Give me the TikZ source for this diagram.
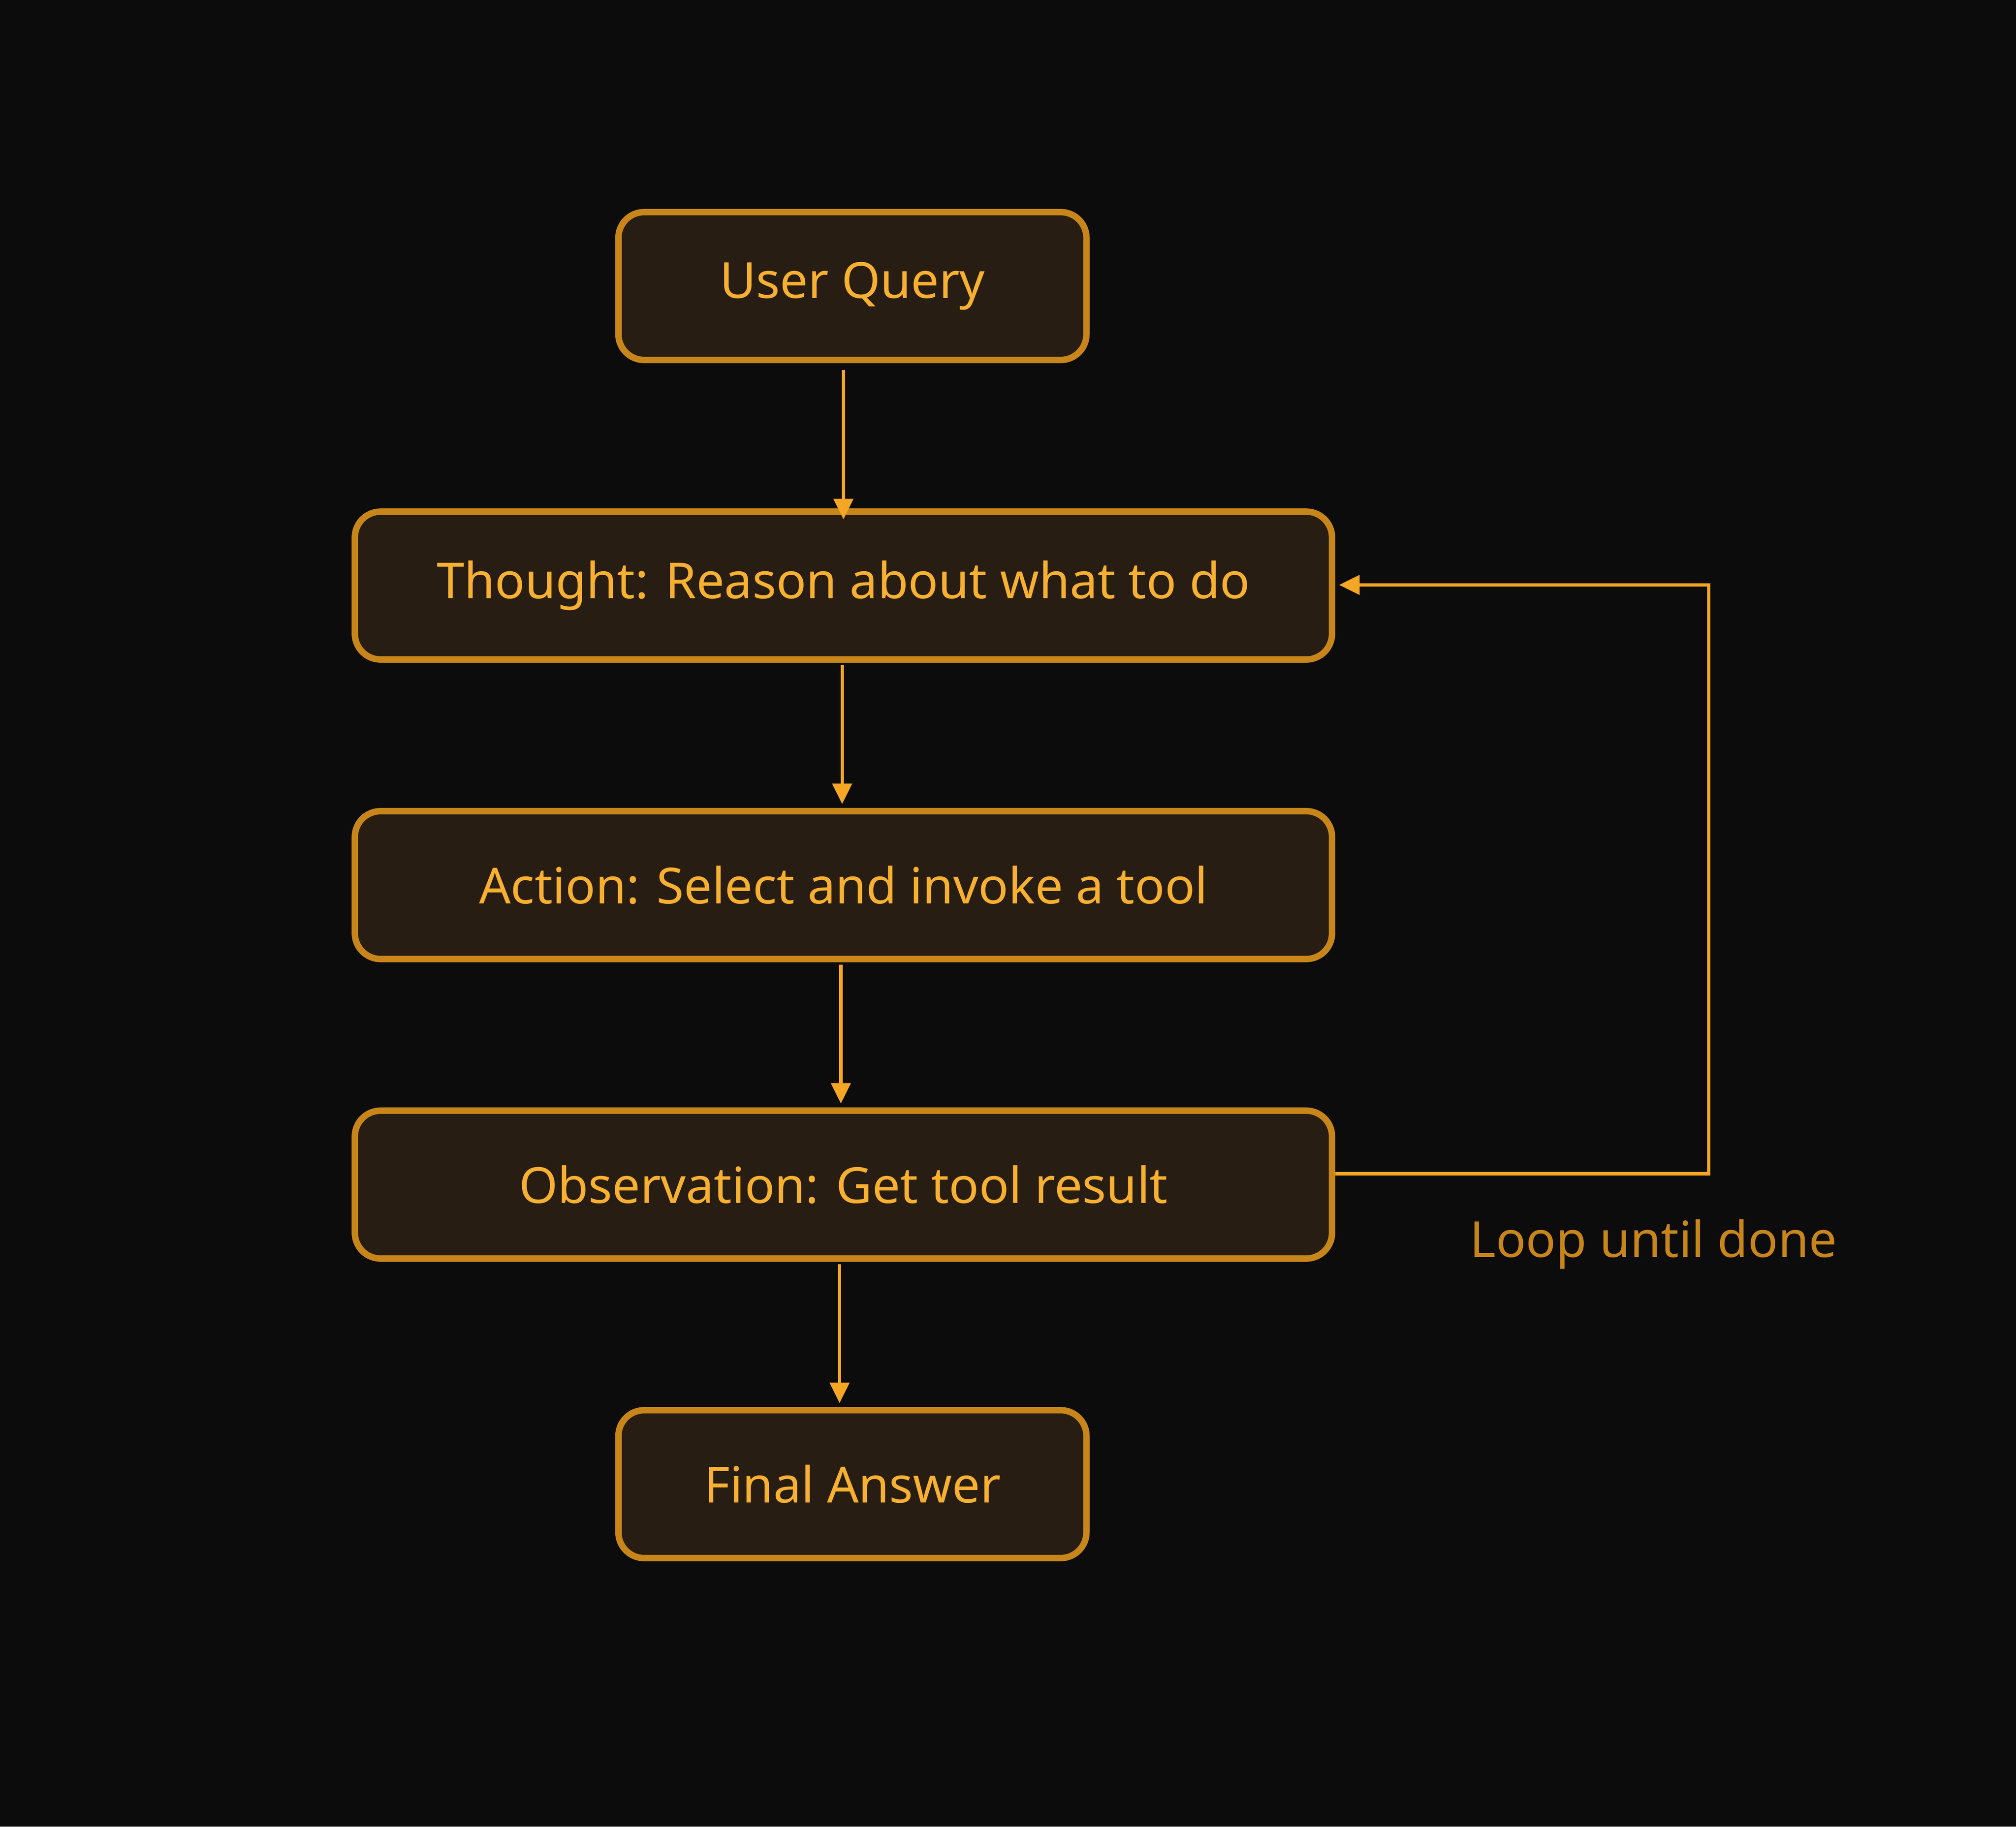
\documentclass[tikz,border=0pt]{standalone}
\usepackage{fontspec}
\setmainfont{Noto Sans}
\usetikzlibrary{arrows.meta}
\definecolor{bg}{HTML}{0D0C0D}
\definecolor{boxfill}{HTML}{281D12}
\definecolor{boxline}{HTML}{C8861A}
\definecolor{txt}{HTML}{F8B030}
\definecolor{arr}{HTML}{F5A623}
\begin{document}
\begin{tikzpicture}[x=0.02cm,y=-0.02cm,
  box/.style={draw=boxline,fill=boxfill,line width=5*0.02cm,rounded corners=20*0.02cm,text=txt,font=\fontsize{22}{26}\selectfont,inner sep=0pt,minimum height=115*0.02cm},
  conn/.style={draw=arr,line width=2.6*0.02cm,-{Triangle[length=16*0.02cm,width=15*0.02cm]}}]
\fill[bg] (0,0) rectangle (1568,1421);
\useasboundingbox (0,0) rectangle (1568,1421);
\node[box,minimum width=364*0.02cm] (uq) at (663,222.5) {User Query};
\node[box,minimum width=760*0.02cm] (th) at (656,455.5) {Thought: Reason about what to do};
\node[box,minimum width=760*0.02cm] (ac) at (656,688.5) {Action: Select and invoke a tool};
\node[box,minimum width=760*0.02cm] (ob) at (656,921.5) {Observation: Get tool result};
\node[box,minimum width=364*0.02cm] (fa) at (663,1154.5) {Final Answer};
\coordinate (a1) at (656,288);
\coordinate (a1e) at (656,404);
\draw[conn] (a1) -- (a1e);
\draw[conn,shorten <=2*0.02cm,shorten >=3*0.02cm] (th.south -| 655,0) -- (ac.north -| 655,0);
\draw[conn,shorten <=2*0.02cm,shorten >=3*0.02cm] (ac.south -| 654,0) -- (ob.north -| 654,0);
\draw[conn,shorten <=2*0.02cm,shorten >=3*0.02cm] (ob.south -| 653,0) -- (fa.north -| 653,0);
\coordinate (l1) at (1329,913);
\coordinate (l2) at (1329,455);
\draw[conn,shorten >=3*0.02cm] (ob.east |- l1) -- (l1) -- (l2) -- (th.east |- l2);
\node[text=boxline,font=\fontsize{22}{26}\selectfont] (lbl) at (1286,968) {Loop until done};
\end{tikzpicture}
\end{document}
